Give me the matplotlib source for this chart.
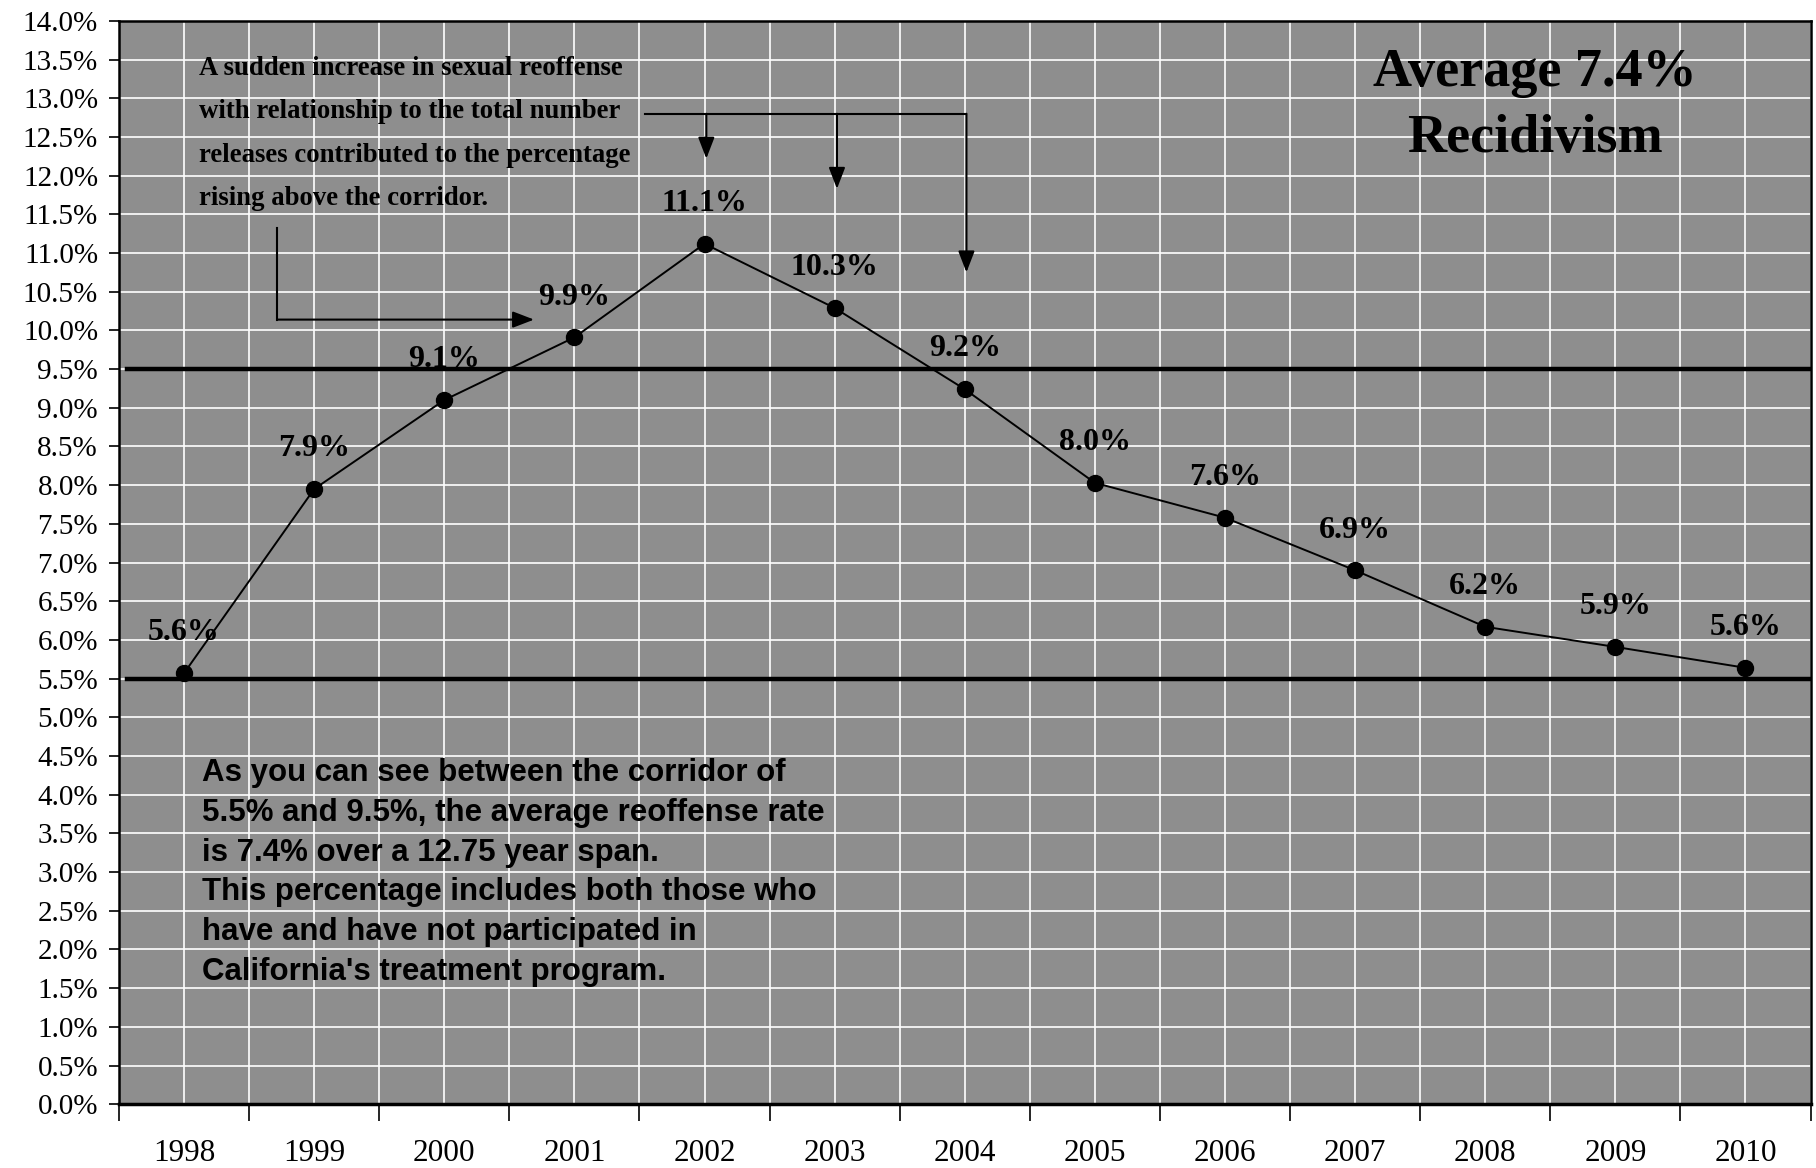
import numpy as np
import matplotlib
matplotlib.use("Agg")
from matplotlib import pyplot as plt

# data
years = ['1998', '1999', '2000', '2001', '2002', '2003', '2004',
         '2005', '2006', '2007', '2008', '2009', '2010']
rates = [5.57, 7.95, 9.10, 9.91, 11.12, 10.29, 9.24, 8.03, 7.58, 6.90, 6.17, 5.91, 5.64]
rate_labels = ['5.6%', '7.9%', '9.1%', '9.9%', '11.1%', '10.3%', '9.2%',
               '8.0%', '7.6%', '6.9%', '6.2%', '5.9%', '5.6%']
corridor = [5.5, 9.5]
yticks = np.arange(0, 14.01, 0.5)

serif = 'Liberation Serif'
sans = 'Liberation Sans'

fig = plt.figure(figsize=(18.16, 11.68), dpi=100)
ax = fig.add_axes([0.0655, 0.0546, 0.9315, 0.9275])
ax.set_facecolor('#8e8e8e')

x = np.arange(len(years))
ax.set_xlim(-0.5, len(years) - 0.5)
ax.set_ylim(0, 14)

# grid: white lines every 0.5% and every half category
ax.set_yticks(yticks)
ax.set_yticklabels(['%.1f%%' % v for v in yticks], fontfamily=serif, fontsize=21)
ax.set_xticks(x)
ax.set_xticklabels(years, fontfamily=serif, fontsize=22.5)
ax.set_xticks(np.arange(-0.5, len(years)), minor=True)
ax.grid(True, which='both', color='white', linewidth=1.2)
ax.set_axisbelow(True)
ax.tick_params(axis='x', which='major', length=0, pad=25)
ax.tick_params(axis='x', which='minor', length=12, width=1.2, direction='out')
ax.tick_params(axis='y', length=7, width=1.2, pad=8)
for s in ['top', 'right', 'left']:
    ax.spines[s].set_linewidth(1.8)
ax.spines['bottom'].set_linewidth(2.5)

# corridor lines
for c in corridor:
    ax.axhline(c, xmin=0.005, xmax=1, color='black', linewidth=3.2, zorder=3)

ax.plot(x, rates, color='black', linewidth=1.4, marker='o', markersize=11.5, zorder=4)
for xi, yi, lab in zip(x, rates, rate_labels):
    ax.annotate(lab, (xi, yi), xytext=(0, 29), textcoords='offset points',
                ha='center', va='center', fontfamily=serif, fontweight='bold',
                fontsize=23, zorder=5)

# top-left note
note = ("A sudden increase in sexual reoffense\n"
        "with relationship to the total number\n"
        "releases contributed to the percentage\n"
        "rising above the corridor.")
ax.text(0.113, 13.55, note, ha='left', va='top', fontfamily=serif,
        fontweight='bold', fontsize=19.3, linespacing=1.97)

# bracket arrows from the note
akw = dict(arrowstyle='-|>,head_length=1.3,head_width=0.5', color='black', lw=1.5,
           shrinkA=0, shrinkB=0)
ax.plot([3.543, 6.013], [12.80, 12.80], color='black', linewidth=1.5, zorder=3)
for ax_x, y_end in [(4.014, 12.22), (5.018, 11.83), (6.013, 10.75)]:
    ax.annotate('', xy=(ax_x, y_end), xytext=(ax_x, 12.80), arrowprops=akw)
ax.plot([0.717, 0.717], [11.32, 10.14], color='black', linewidth=1.5, zorder=3)
ax.annotate('', xy=(2.69, 10.14), xytext=(0.717, 10.14), arrowprops=akw)

# average headline
ax.text(10.38, 12.9, 'Average 7.4%\nRecidivism', ha='center', va='center',
        fontfamily=serif, fontweight='bold', fontsize=39, linespacing=1.42)

# bottom-left explanation
expl = ("As you can see between the corridor of\n"
        "5.5% and 9.5%, the average reoffense rate\n"
        "is 7.4% over a 12.75 year span.\n"
        "This percentage includes both those who\n"
        "have and have not participated in\n"
        "California's treatment program.")
ax.text(0.14, 4.47, expl, ha='left', va='top', fontfamily=sans,
        fontweight='bold', fontsize=22.5, linespacing=1.42)

fig.savefig('out.png', dpi=100)
